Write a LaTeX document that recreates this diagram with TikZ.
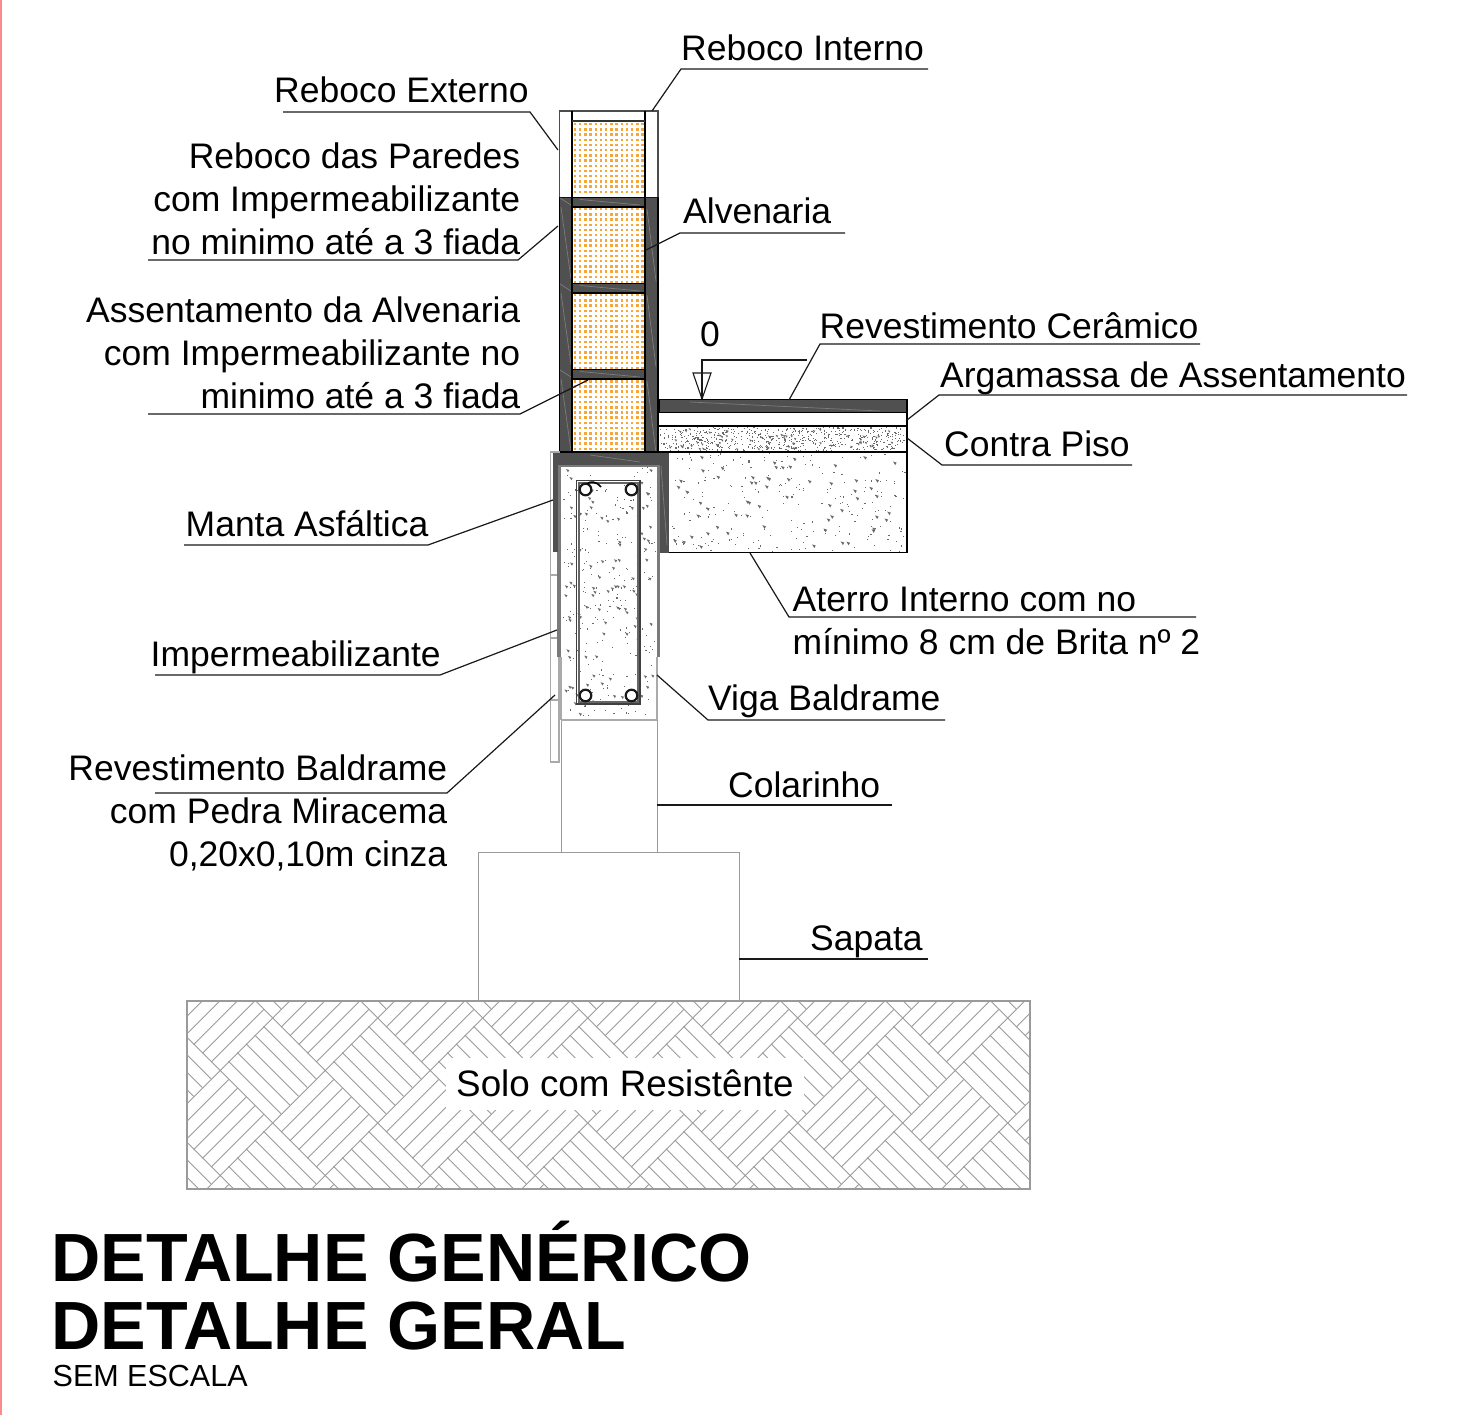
\documentclass[tikz,border=0pt]{standalone}
\usepackage{fontspec}
\setmainfont{Liberation Sans}
\definecolor{darkfill}{HTML}{505050}
\definecolor{midfill}{HTML}{7A7A7A}
\definecolor{orng}{HTML}{F7A63A}
\definecolor{hatchc}{HTML}{9A9A9A}
\definecolor{lineg}{HTML}{AAAAAA}
\definecolor{stip}{HTML}{6A6A6A}
\definecolor{redl}{HTML}{FA8C8C}
\newcommand{\stipfield}[7]{% x y w h dots triangles trisize
  \foreach \n in {1,...,#5}{
    \pgfmathsetmacro{\rx}{#1+#3*rnd}\pgfmathsetmacro{\ry}{#2+#4*rnd}
    \fill[stip] (\rx,\ry) rectangle ++(1.1,1.1);}
  \foreach \n in {1,...,#6}{
    \pgfmathsetmacro{\rx}{#1+1+(#3-#7-2)*rnd}\pgfmathsetmacro{\ry}{#2+1+(#4-#7-2)*rnd}
    \fill[stip] (\rx,\ry) -- ++(#7,.3*#7) -- ++(-.4*#7,.7*#7) -- cycle;}
}
\newcommand{\leaderpath}[4]{%
  \coordinate (#1p) at #2; \coordinate (#1q) at #3; \coordinate (#1r) at #4;
  \draw[leader] (#1p) -- (#1q) -- (#1r);}
\tikzset{
  lbl/.style={font=\fontsize{35.5}{43}\selectfont,inner sep=0pt,text=black},
  leader/.style={draw=black!90,line width=1.2pt},
  band/.style={fill=darkfill,draw=black,line width=1.5pt},
  thin gray/.style={draw=lineg,line width=1.4pt},
  concrete/.style={draw=black,line width=1.3pt},
  hatchline/.style={draw=hatchc,line width=.9pt},
  faint/.style={draw=white!25!darkfill,line width=.7pt},
}
\begin{document}
\begin{tikzpicture}[x=1pt,y=-1pt]
\useasboundingbox (0,0) rectangle (1465,1415);
\fill[white] (0,0) rectangle (1465,1415);
\fill[redl] (0,0) rectangle (2,1415);
\pgfmathsetseed{2024}
% ---------- soil hatch
\begin{scope}
\clip (187,1001) rectangle (1030,1189);
\foreach \i in {-1,...,8}{\foreach \j in {-1,...,2}{
  \foreach \k in {0,...,6}{
    \pgfmathsetmacro{\cx}{220+105*\i}\pgfmathsetmacro{\cy}{1018.3+105*\j}
    \pgfmathsetmacro{\dd}{8.75*\k}
    \draw[hatchline] (\cx-52.5+\dd,\cy+\dd) -- (\cx+\dd,\cy-52.5+\dd);
    \pgfmathsetmacro{\ex}{272.3+105*\i}\pgfmathsetmacro{\ey}{1070+105*\j}
    \draw[hatchline] (\ex-52.5+\dd,\ey-\dd) -- (\ex+\dd,\ey+52.5-\dd);
  }}}
\end{scope}
\draw[draw=hatchc,line width=1.2pt] (187,1001) rectangle (1030,1189);
\fill[white] (446,1058) rectangle (804,1110);
% ---------- footing and column
\draw[draw=hatchc,line width=1pt] (478,1001) -- (478,852) -- (739,852) -- (739,1001);
\draw[draw=hatchc,line width=1pt] (561,852) -- (561,720) -- (657,720) -- (657,852);
% ---------- masonry dots
\foreach \ya/\yb in {123/196,208/283,294/369,380/452}{
  \pgfmathsetmacro{\ylast}{\yb-2}
  \pgfmathsetmacro{\ysec}{\ya+5.2}
  \foreach \yy in {\ya,\ysec,...,\ylast}{
    \foreach \xx in {575,580.2,...,643}{
      \fill[orng] (\xx-1.25,\yy) rectangle ++(2.5,2.5);}}}
% ---------- wall
\fill[darkfill] (559.5,197) rectangle (572,452);
\fill[darkfill] (645,197) rectangle (658,452);
\foreach \ya/\yb in {197.5/207,283.5/293,369.5/379}{
  \fill[darkfill] (572,\ya) rectangle (645,\yb);
  \draw[black,line width=1.5pt] (572,\ya) -- (645,\ya) (572,\yb) -- (645,\yb);
  \draw[faint] (580,\ya+2) -- (640,\yb-2);
}
\foreach \yy in {197,283,369}{
  \draw[faint] (561,\yy+10) -- (571,\yy+82);
  \draw[faint] (647,\yy+12) -- (656,\yy+84);
  \draw[faint] (560,\yy+1) -- (571,\yy+8);
}
\draw[draw=black!70,line width=1.3pt] (559.5,197) -- (559.5,111) -- (658,111) -- (658,197);
\draw[draw=black,line width=1.8pt] (572,111) -- (572,452) (645,111) -- (645,452);
\draw[draw=black!80,line width=1.8pt] (572,120.8) -- (645,120.8);
\draw[draw=blue!70!black,line width=1.2pt] (559.5,197.3) -- (572,197.3) (645,197.3) -- (658,197.3);
\draw[draw=black,line width=1.5pt] (559.5,197) -- (559.5,452) -- (658,452) -- (658,197);
% ---------- floor
\path[band] (659,399.5) rectangle (907,412.7);
\draw[faint] (690,402) -- (880,411);
\stipfield{659}{427}{248}{25}{600}{60}{2.5}
\draw[concrete] (659,426) -- (907,426) -- (907,412.7);
\draw[concrete] (907,426) -- (907,452) -- (658,452);
\stipfield{670}{453}{236}{99}{220}{60}{3.6}
\draw[concrete] (907,452) -- (907,552.7) -- (669,552.7);
% ---------- beam concrete
\stipfield{562}{467}{94}{252}{230}{95}{3.2}
% ---------- finish cladding
\draw[thin gray] (550.5,452) rectangle (559,762);
\draw[thin gray] (550.5,575) -- (559,575) (550.5,638) -- (559,638) (550.5,700) -- (559,700);
% ---------- waterproofing
\fill[midfill] (557,465) rectangle (561,657);
\fill[midfill] (657,465) rectangle (660,657);
\fill[midfill] (557,464) rectangle (660,467);
\draw[draw=lineg,line width=1.3pt] (561,657) -- (561,720) (657,657) -- (657,720);
\draw[draw=lineg,line width=1.3pt] (561,720) -- (657,720);
% ---------- asphalt blanket
\fill[darkfill] (553,453) rectangle (669,464.5);
\fill[darkfill] (553,453) rectangle (557.5,552);
\fill[darkfill] (660,453) rectangle (669,553);
\draw[faint] (590,455) -- (640,462);
\draw[faint] (661,466) -- (667,545);
% ---------- stirrup
\draw[draw=black!75,line width=1.1pt] (576.8,480.8) rectangle (640,704);
\draw[draw=black!60,line width=1.2pt] (579,483) rectangle (638,702);
\foreach \cc in {(585.5,489.5),(631.5,489.5),(585.5,695.5),(631.5,695.5)}{
  \draw[black!90,fill=white,line width=2.2pt] \cc circle (5.8);}
\draw[black,line width=1.6pt] (587,484) .. controls (590,481) and (596,481) .. (601,487);
% ---------- level mark
\coordinate (lvA) at (807,360);
\coordinate (lvB) at (702,360);
\coordinate (lvC) at (702,399);
\coordinate (lvL) at (693,373);
\coordinate (lvR) at (711,373);
\draw[leader,line width=1.1pt] (lvA) -- (lvB) -- (lvC);
\draw[leader,line width=1.1pt] (lvL) -- (lvR) -- (lvC) -- cycle;
\node[lbl,anchor=base] (lvl) at (710,346.5) {0};
% ---------- labels
\node[lbl,anchor=base west] (ri) at (681,60.5) {Reboco Interno};
\node[lbl,anchor=base west] (re) at (274,102.5) {Reboco Externo};
\node[lbl,anchor=base east,align=right] (rp) at (520.5,254.5) {Reboco das Paredes\\com Impermeabilizante\\no minimo até a 3 fiada};
\node[lbl,anchor=base west] (al) at (683,223.5) {Alvenaria};
\node[lbl,anchor=base east,align=right] (aa) at (520.5,408) {Assentamento da Alvenaria\\com Impermeabilizante no\\minimo até a 3 fiada};
\node[lbl,anchor=base west] (rc) at (819.5,338) {Revestimento Cerâmico};
\node[lbl,anchor=base west] (ar) at (940,388) {Argamassa de Assentamento};
\node[lbl,anchor=base west] (cp) at (944,456.5) {Contra Piso};
\node[lbl,anchor=base west] (ma) at (185.5,536.5) {Manta Asfáltica};
\node[lbl,anchor=base west,align=left] (at) at (792.5,654) {Aterro Interno com no\\mínimo 8 cm de Brita nº 2};
\node[lbl,anchor=base west] (im) at (150.5,666.5) {Impermeabilizante};
\node[lbl,anchor=base west] (vb) at (708,710.5) {Viga Baldrame};
\node[lbl,anchor=base east,align=right] (rb) at (447.5,866) {Revestimento Baldrame\\com Pedra Miracema\\0,20x0,10m cinza};
\node[lbl,anchor=base west] (co) at (728,797) {Colarinho};
\node[lbl,anchor=base west] (sa) at (810,950) {Sapata};
\node[lbl,anchor=base west,font=\fontsize{36.8}{43}\selectfont] (so) at (456,1096) {Solo com Resistênte};
\node[inner sep=0pt,anchor=base west,align=left,font=\fontsize{68.2}{68}\selectfont\bfseries] (ti) at (51.5,1349) {DETALHE GENÉRICO\\DETALHE GERAL};
\node[inner sep=0pt,anchor=base west,font=\fontsize{30.5}{36}\selectfont] (se) at (52.5,1386) {SEM ESCALA};
% ---------- leaders
\leaderpath{riL}{(928,69)}{(681,69)}{(652,111)}
\leaderpath{reL}{(283,112)}{(530,112)}{(558,150)}
\leaderpath{rpL}{(148,260)}{(518,260)}{(558,226)}
\leaderpath{alL}{(845,233)}{(680,233)}{(646,250)}
\leaderpath{aaL}{(148,414)}{(520,414)}{(588,380)}
\leaderpath{rcL}{(1200,344)}{(820,344)}{(789,400)}
\leaderpath{arL}{(1407,395)}{(939,395)}{(907,420)}
\leaderpath{cpL}{(1132,465)}{(942,465)}{(907,438)}
\leaderpath{atL}{(1196,617)}{(789,617)}{(750,553)}
\leaderpath{maL}{(184,545)}{(428,545)}{(553,500)}
\leaderpath{imL}{(155,675)}{(440,675)}{(557,630)}
\leaderpath{vbL}{(945,720)}{(708,720)}{(657,675)}
\leaderpath{rbL}{(155,793)}{(447,793)}{(555,695)}
\coordinate (coA) at (657,805); \coordinate (coB) at (892,805);
\draw[leader] (coA) -- (coB);
\coordinate (saA) at (739,959); \coordinate (saB) at (928,959);
\draw[leader] (saA) -- (saB);
\end{tikzpicture}
\end{document}
